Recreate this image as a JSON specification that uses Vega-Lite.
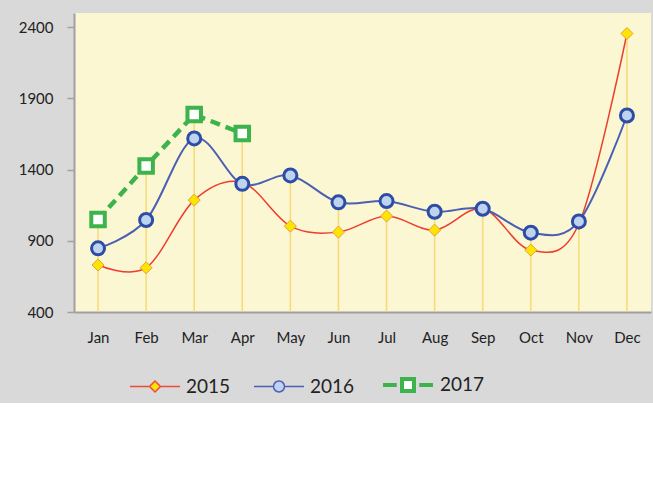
{
  "$schema": "https://vega.github.io/schema/vega-lite/v6.json",
  "width": 577,
  "height": 299,
  "autosize": {"type": "none"},
  "padding": {"left": 74, "top": 13, "right": 2, "bottom": 91},
  "background": "#d9d9d9",
  "config": {
    "view": {"fill": "#faf7d2", "stroke": null},
    "font": "Lato",
    "legend": {
      "orient": "none",
      "legendX": 55,
      "legendY": 345,
      "direction": "horizontal",
      "symbolSize": 2500,
      "labelFont": "Lato",
      "labelFontSize": 19,
      "labelColor": "#222222",
      "labelOffset": 5,
      "columnPadding": 20
    }
  },
  "data": {
    "values": [
      {"month": "Jan", "series": "2015", "value": 730},
      {"month": "Feb", "series": "2015", "value": 711},
      {"month": "Mar", "series": "2015", "value": 1186},
      {"month": "Apr", "series": "2015", "value": 1310},
      {"month": "May", "series": "2015", "value": 1003},
      {"month": "Jun", "series": "2015", "value": 961},
      {"month": "Jul", "series": "2015", "value": 1074},
      {"month": "Aug", "series": "2015", "value": 975},
      {"month": "Sep", "series": "2015", "value": 1125},
      {"month": "Oct", "series": "2015", "value": 835},
      {"month": "Nov", "series": "2015", "value": 1020},
      {"month": "Dec", "series": "2015", "value": 2356},
      {"month": "Jan", "series": "2016", "value": 847},
      {"month": "Feb", "series": "2016", "value": 1046},
      {"month": "Mar", "series": "2016", "value": 1619},
      {"month": "Apr", "series": "2016", "value": 1300},
      {"month": "May", "series": "2016", "value": 1359},
      {"month": "Jun", "series": "2016", "value": 1170},
      {"month": "Jul", "series": "2016", "value": 1179},
      {"month": "Aug", "series": "2016", "value": 1104},
      {"month": "Sep", "series": "2016", "value": 1125},
      {"month": "Oct", "series": "2016", "value": 957},
      {"month": "Nov", "series": "2016", "value": 1036},
      {"month": "Dec", "series": "2016", "value": 1780},
      {"month": "Jan", "series": "2017", "value": 1050},
      {"month": "Feb", "series": "2017", "value": 1425},
      {"month": "Mar", "series": "2017", "value": 1787},
      {"month": "Apr", "series": "2017", "value": 1654}
    ]
  },
  "encoding": {
    "x": {
      "field": "month",
      "type": "ordinal",
      "sort": ["Jan","Feb","Mar","Apr","May","Jun","Jul","Aug","Sep","Oct","Nov","Dec"],
      "scale": {"type": "point", "padding": 0.5},
      "axis": {
        "title": null,
        "ticks": false,
        "tickSize": 0,
        "domainColor": "#a0a0a0",
        "domainWidth": 2,
        "labelFont": "Lato",
        "labelFontSize": 15,
        "labelColor": "#222222",
        "labelPadding": 18,
        "labelAngle": 0
      }
    },
    "y": {
      "field": "value",
      "type": "quantitative",
      "scale": {"domain": [400, 2500], "nice": false, "zero": false},
      "axis": {
        "title": null,
        "format": "d",
        "values": [400, 900, 1400, 1900, 2400],
        "grid": false,
        "tickSize": 7,
        "tickColor": "#a0a0a0",
        "tickWidth": 1.5,
        "domainColor": "#a0a0a0",
        "domainWidth": 2,
        "labelFont": "Lato",
        "labelFontSize": 15,
        "labelColor": "#222222",
        "labelPadding": 14
      }
    }
  },
  "layer": [
    {
      "transform": [{"filter": "datum.series === '2015'"}],
      "mark": {"type": "line", "interpolate": "cardinal", "color": "#f03c2e", "strokeWidth": 1.5}
    },
    {
      "transform": [{"filter": "datum.series === '2016'"}],
      "mark": {"type": "line", "interpolate": "cardinal", "color": "#4b5fb4", "strokeWidth": 2}
    },
    {
      "transform": [{"filter": "datum.series === '2017'"}],
      "mark": {"type": "line", "color": "#3cb44b", "strokeWidth": 4.5, "strokeDash": [10, 6]}
    },
    {
      "mark": {"type": "rule", "color": "#f5d76e", "strokeWidth": 1.5, "opacity": 0.9},
      "encoding": {
        "y": {"aggregate": "max", "field": "value", "type": "quantitative"},
        "y2": {"datum": 400}
      }
    },
    {
      "transform": [{"filter": "datum.series === '2015'"}],
      "mark": {"type": "point", "shape": "diamond", "size": 144, "filled": true, "fill": "#ffe400", "stroke": "#e0a040", "strokeWidth": 1, "opacity": 1}
    },
    {
      "transform": [{"filter": "datum.series === '2016'"}],
      "mark": {"type": "point", "shape": "circle", "size": 169, "filled": true, "fill": "#bdd3ee", "stroke": "#2e4ca6", "strokeWidth": 3, "opacity": 1}
    },
    {
      "transform": [{"filter": "datum.series === '2017'"}],
      "mark": {"type": "point", "shape": "square", "size": 182, "filled": true, "fill": "#ffffff", "stroke": "#3cb44b", "strokeWidth": 4, "opacity": 1}
    },
    {
      "mark": {"type": "point", "filled": true, "opacity": 0},
      "encoding": {
        "color": {
          "field": "series",
          "type": "nominal",
          "scale": {"range": ["#ffe400", "#bdd3ee", "#ffffff"]},
          "legend": {
            "title": null,
            "encode": {
              "symbols": {
                "update": {
                  "opacity": {"value": 1},
                  "fillOpacity": {"value": 1},
                  "strokeOpacity": {"value": 1}
                }
              }
            }
          }
        },
        "shape": {
          "field": "series",
          "type": "nominal",
          "scale": {"range": [
            "M-1,0L-0.22,0M0.22,0L1,0M0,-0.22L0.22,0L0,0.22L-0.22,0Z",
            "M-1,0L-0.22,0M0.22,0L1,0M-0.22,0A0.22,0.22,0,1,0,0.22,0A0.22,0.22,0,1,0,-0.22,0Z",
            "M-1,0L-0.45,0M0.45,0L1,0M-0.24,-0.24L0.24,-0.24L0.24,0.24L-0.24,0.24Z"
          ]},
          "legend": {"title": null}
        },
        "stroke": {
          "field": "series",
          "type": "nominal",
          "scale": {"range": ["#f04a3a", "#4b5fb4", "#3cb44b"]},
          "legend": {"title": null}
        },
        "strokeWidth": {
          "field": "series",
          "type": "nominal",
          "scale": {"type": "ordinal", "range": [1.5, 1.5, 4]},
          "legend": {"title": null}
        }
      }
    }
  ]
}
